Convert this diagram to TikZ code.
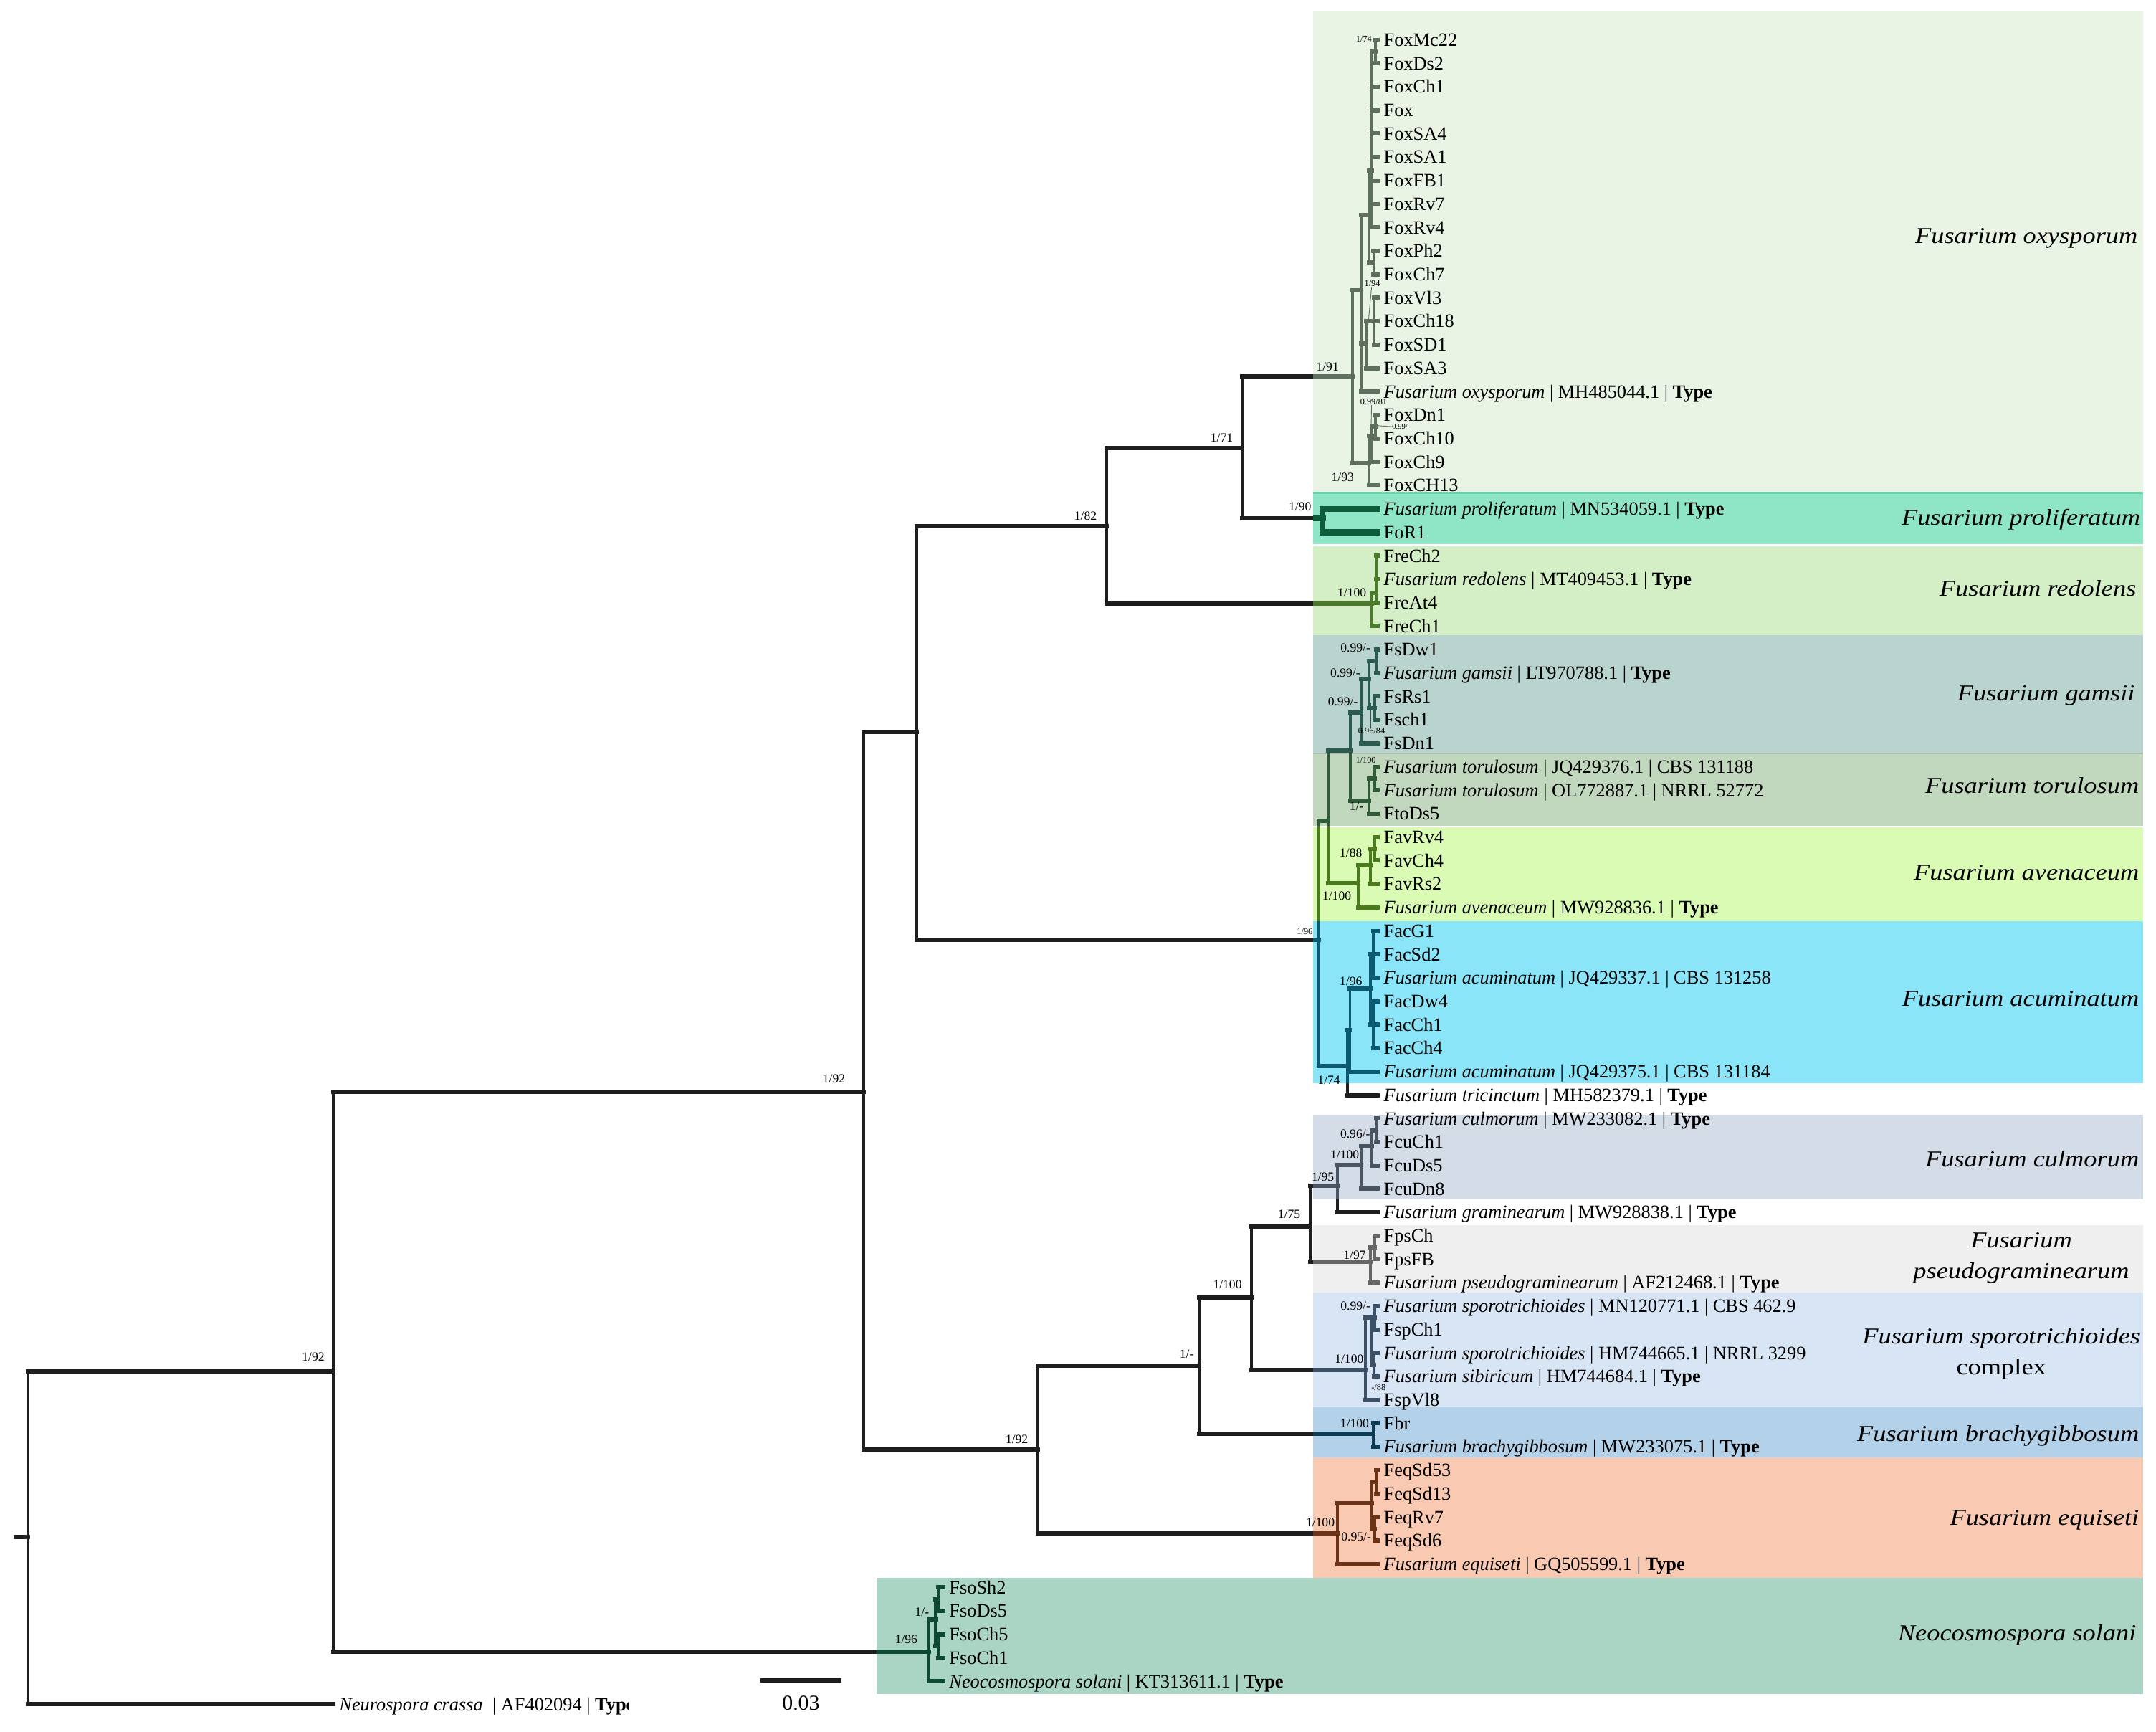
\documentclass[tikz,border=0pt]{standalone}
\usepackage{fontspec}
\setmainfont{Liberation Serif}
\newfontfamily\cladefont[FakeStretch=1.15]{Liberation Serif}
\definecolor{boxy}{HTML}{E9F4E5}
\definecolor{bprol}{HTML}{8EE6C7}
\definecolor{bprolline}{HTML}{62D7AC}
\definecolor{bred}{HTML}{D4EFC6}
\definecolor{bgam}{HTML}{B9D3CE}
\definecolor{btor}{HTML}{C1D8BF}
\definecolor{bave}{HTML}{D9FBB4}
\definecolor{bacu}{HTML}{8AE5F8}
\definecolor{bcul}{HTML}{D4DDE7}
\definecolor{bpse}{HTML}{EFEFEF}
\definecolor{bspo}{HTML}{D8E5F5}
\definecolor{bbra}{HTML}{B3D2E9}
\definecolor{bequ}{HTML}{F9CAB1}
\definecolor{bneo}{HTML}{AAD4C3}
\definecolor{coxy}{HTML}{5F6F5E}
\definecolor{cprol}{HTML}{0F5C3B}
\definecolor{cred}{HTML}{4D7B2C}
\definecolor{cgam}{HTML}{2B5A4E}
\definecolor{ctor}{HTML}{2F5B38}
\definecolor{cave}{HTML}{4A7B1D}
\definecolor{cacu}{HTML}{0C5A72}
\definecolor{ccul}{HTML}{4A5563}
\definecolor{cpse}{HTML}{666666}
\definecolor{cspo}{HTML}{3D5166}
\definecolor{cbra}{HTML}{0C3B56}
\definecolor{cequ}{HTML}{6B3317}
\definecolor{cneo}{HTML}{0E4A33}
\definecolor{cback}{HTML}{1E1E1E}
\tikzset{
 vbr/.style={line width=1.1pt, line cap=rect},
 hbr/.style={line width=1.7pt, line cap=rect},
 tip/.style={anchor=west, inner xsep=2.2pt, inner ysep=0pt, text height=5.2pt, text depth=0.2pt, font=\fontsize{7.5}{9}\selectfont},
 sup/.style={inner sep=0pt, font=\fontsize{5}{6}\selectfont},
 tiny/.style={inner sep=0pt, font=\fontsize{3.5}{4}\selectfont},
 clade/.style={anchor=east, inner sep=0pt, text height=6.3pt, text depth=0pt, font=\cladefont\itshape\fontsize{9}{12.3}\selectfont},
 clade2/.style={inner sep=0pt, align=center, font=\cladefont\itshape\fontsize{9}{12.3}\selectfont},
 leader/.style={line width=0.25pt},
}
\newcommand\tipn[4]{\node[tip] (#1) at (#2,{29+17.05*#3}) {#4};}
\newcommand\edg[2]{\draw[vbr] (#1) -- (#1 |- #2); \draw[hbr] (#1 |- #2) -- (#2);}
\newcommand\treeedges{%
 \edg{R}{N1}\edg{R}{tNeu.west}%
 \edg{N1}{N2}\edg{N1}{NS}%
 \edg{N2}{N3}\edg{N2}{N6}%
 \edg{N3}{N4}\edg{N3}{M}%
 \edg{N4}{N5}\edg{N4}{RD}%
 \edg{N5}{A}\edg{N5}{PR}%
 \edg{A}{B}\edg{A}{C}%
 \edg{B}{D}\edg{B}{E}\edg{B}{t15.west}%
 \edg{D}{D1}\edg{D}{D2}%
 \edg{D1}{P01}\edg{D1}{t2.west}\edg{D1}{t3.west}\edg{D1}{t4.west}\edg{D1}{t5.west}\edg{D1}{t6.west}\edg{D1}{t7.west}\edg{D1}{t8.west}%
 \edg{P01}{t0.west}\edg{P01}{t1.west}%
 \edg{D2}{t9.west}\edg{D2}{t10.west}%
 \edg{E}{E1}\edg{E}{t14.west}%
 \edg{E1}{t11.west}\edg{E1}{t12.west}\edg{E1}{t13.west}%
 \edg{C}{C1}\edg{C}{t19.west}%
 \edg{C1}{P1617}\edg{C1}{t18.west}%
 \edg{P1617}{t16.west}\edg{P1617}{t17.west}%
 \edg{PR}{t20.west}\edg{PR}{t21.west}%
 \edg{RD}{RD1}\edg{RD}{t25.west}%
 \edg{RD1}{t22.west}\edg{RD1}{t23.west}\edg{RD1}{t24.west}%
 \edg{M}{TGA}\edg{M}{AT}%
 \edg{TGA}{G0}\edg{TGA}{AV}%
 \edg{G0}{GA}\edg{G0}{T}%
 \edg{GA}{GB}\edg{GA}{t30.west}%
 \edg{GB}{P2627}\edg{GB}{P2829}%
 \edg{P2627}{t26.west}\edg{P2627}{t27.west}%
 \edg{P2829}{t28.west}\edg{P2829}{t29.west}%
 \edg{T}{T1}\edg{T}{t33.west}%
 \edg{T1}{t31.west}\edg{T1}{t32.west}%
 \edg{AV}{AV1}\edg{AV}{t37.west}%
 \edg{AV1}{AV2}\edg{AV1}{t36.west}%
 \edg{AV2}{t34.west}\edg{AV2}{t35.west}%
 \edg{AT}{AC}\edg{AT}{t45.west}%
 \edg{AC}{AC1}\edg{AC}{t44.west}%
 \edg{AC1}{ACa}\edg{AC1}{ACb}%
 \edg{ACa}{t38.west}\edg{ACa}{t39.west}\edg{ACa}{t40.west}%
 \edg{ACb}{t41.west}\edg{ACb}{t42.west}\edg{ACb}{t43.west}%
 \edg{N6}{N7}\edg{N6}{EQ}%
 \edg{N7}{N8}\edg{N7}{BR}%
 \edg{N8}{N75}\edg{N8}{SP}%
 \edg{N75}{CG}\edg{N75}{PS}%
 \edg{CG}{CU}\edg{CG}{t50.west}%
 \edg{CU}{CU1}\edg{CU}{t49.west}%
 \edg{CU1}{CU2}\edg{CU1}{t48.west}%
 \edg{CU2}{t46.west}\edg{CU2}{t47.west}%
 \edg{PS}{PS1}\edg{PS}{t53.west}%
 \edg{PS1}{t51.west}\edg{PS1}{t52.west}%
 \edg{SP}{SP1}\edg{SP}{t58.west}%
 \edg{SP1}{SPa}\edg{SP1}{SP2}%
 \edg{SPa}{t54.west}\edg{SPa}{t55.west}%
 \edg{SP2}{t56.west}\edg{SP2}{t57.west}%
 \edg{BR}{t59.west}\edg{BR}{t60.west}%
 \edg{EQ}{EQ1}\edg{EQ}{t65.west}%
 \edg{EQ1}{EQa}\edg{EQ1}{EQb}%
 \edg{EQa}{t61.west}\edg{EQa}{t62.west}%
 \edg{EQb}{t63.west}\edg{EQb}{t64.west}%
 \edg{NS}{NS1}\edg{NS}{t70.west}%
 \edg{NS1}{NSa}\edg{NS1}{NSb}%
 \edg{NSa}{t66.west}\edg{NSa}{t67.west}%
 \edg{NSb}{t68.west}\edg{NSb}{t69.west}%
}
\newcommand\boxcol[5]{\begin{scope}\clip (#1,#2) rectangle (1558.6,#3);\begin{scope}[color=#4,#5]\treeedges\end{scope}\end{scope}}
\begin{document}
\begin{tikzpicture}[x=0.0191837cm, y=-0.0191837cm]
\useasboundingbox (0,0) rectangle (1568,1259);
\fill[white] (0,0) rectangle (1568,1259);
% clade boxes
\fill[boxy] (955,8.3) rectangle (1558.6,358);
\fill[bprol] (955,358) rectangle (1558.6,395.7);
\draw[bprolline, line width=0.8pt] (955,358.5) -- (1558.6,358.5);
\fill[bred] (955,397) rectangle (1558.6,462);
\fill[bgam] (955,462) rectangle (1558.6,548);
\fill[btor] (955,548) rectangle (1558.6,600.4);
\draw[bgam!80!black!60!btor, line width=0.5pt] (955,548) -- (1558.6,548);
\fill[bave] (955,601.4) rectangle (1558.6,670);
\fill[bacu] (955,670) rectangle (1558.6,787.5);
\fill[bcul] (955,810.5) rectangle (1558.6,872);
\fill[bpse] (955,891) rectangle (1558.6,940);
\fill[bspo] (955,940) rectangle (1558.6,1023);
\fill[bbra] (955,1023) rectangle (1558.6,1060);
\fill[bequ] (955,1060) rectangle (1558.6,1147.5);
\fill[bneo] (637.3,1147.5) rectangle (1558.6,1231.5);
% tips
\tipn{t0}{1002}{0}{FoxMc22}
\tipn{t1}{1002}{1}{FoxDs2}
\tipn{t2}{1002}{2}{FoxCh1}
\tipn{t3}{1002}{3}{Fox}
\tipn{t4}{1002}{4}{FoxSA4}
\tipn{t5}{1002}{5}{FoxSA1}
\tipn{t6}{1002}{6}{FoxFB1}
\tipn{t7}{1002}{7}{FoxRv7}
\tipn{t8}{1002}{8}{FoxRv4}
\tipn{t9}{1002}{9}{FoxPh2}
\tipn{t10}{1002}{10}{FoxCh7}
\tipn{t11}{1002}{11}{FoxVl3}
\tipn{t12}{1002}{12}{FoxCh18}
\tipn{t13}{1002}{13}{FoxSD1}
\tipn{t14}{1002}{14}{FoxSA3}
\tipn{t15}{1002}{15}{\textit{Fusarium oxysporum} | MH485044.1 | \textbf{Type}}
\tipn{t16}{1002}{16}{FoxDn1}
\tipn{t17}{1002}{17}{FoxCh10}
\tipn{t18}{1002}{18}{FoxCh9}
\tipn{t19}{1002}{19}{FoxCH13}
\tipn{t20}{1002}{20}{\textit{Fusarium proliferatum} | MN534059.1 | \textbf{Type}}
\tipn{t21}{1002}{21}{FoR1}
\tipn{t22}{1002}{22}{FreCh2}
\tipn{t23}{1002}{23}{\textit{Fusarium redolens} | MT409453.1 | \textbf{Type}}
\tipn{t24}{1002}{24}{FreAt4}
\tipn{t25}{1002}{25}{FreCh1}
\tipn{t26}{1002}{26}{FsDw1}
\tipn{t27}{1002}{27}{\textit{Fusarium gamsii} | LT970788.1 | \textbf{Type}}
\tipn{t28}{1002}{28}{FsRs1}
\tipn{t29}{1002}{29}{Fsch1}
\tipn{t30}{1002}{30}{FsDn1}
\tipn{t31}{1002}{31}{\textit{Fusarium torulosum} | JQ429376.1 | CBS 131188}
\tipn{t32}{1002}{32}{\textit{Fusarium torulosum} | OL772887.1 | NRRL 52772}
\tipn{t33}{1002}{33}{FtoDs5}
\tipn{t34}{1002}{34}{FavRv4}
\tipn{t35}{1002}{35}{FavCh4}
\tipn{t36}{1002}{36}{FavRs2}
\tipn{t37}{1002}{37}{\textit{Fusarium avenaceum} | MW928836.1 | \textbf{Type}}
\tipn{t38}{1002}{38}{FacG1}
\tipn{t39}{1002}{39}{FacSd2}
\tipn{t40}{1002}{40}{\textit{Fusarium acuminatum} | JQ429337.1 | CBS 131258}
\tipn{t41}{1002}{41}{FacDw4}
\tipn{t42}{1002}{42}{FacCh1}
\tipn{t43}{1002}{43}{FacCh4}
\tipn{t44}{1002}{44}{\textit{Fusarium acuminatum} | JQ429375.1 | CBS 131184}
\tipn{t45}{1002}{45}{\textit{Fusarium tricinctum} | MH582379.1 | \textbf{Type}}
\tipn{t46}{1002}{46}{\textit{Fusarium culmorum} | MW233082.1 | \textbf{Type}}
\tipn{t47}{1002}{47}{FcuCh1}
\tipn{t48}{1002}{48}{FcuDs5}
\tipn{t49}{1002}{49}{FcuDn8}
\tipn{t50}{1002}{50}{\textit{Fusarium graminearum} | MW928838.1 | \textbf{Type}}
\tipn{t51}{1002}{51}{FpsCh}
\tipn{t52}{1002}{52}{FpsFB}
\tipn{t53}{1002}{53}{\textit{Fusarium pseudograminearum} | AF212468.1 | \textbf{Type}}
\tipn{t54}{1002}{54}{\textit{Fusarium sporotrichioides} | MN120771.1 | CBS 462.9}
\tipn{t55}{1002}{55}{FspCh1}
\tipn{t56}{1002}{56}{\textit{Fusarium sporotrichioides} | HM744665.1 | NRRL 3299}
\tipn{t57}{1002}{57}{\textit{Fusarium sibiricum} | HM744684.1 | \textbf{Type}}
\tipn{t58}{1002}{58}{FspVl8}
\tipn{t59}{1002}{59}{Fbr}
\tipn{t60}{1002}{60}{\textit{Fusarium brachygibbosum} | MW233075.1 | \textbf{Type}}
\tipn{t61}{1002}{61}{FeqSd53}
\tipn{t62}{1002}{62}{FeqSd13}
\tipn{t63}{1002}{63}{FeqRv7}
\tipn{t64}{1002}{64}{FeqSd6}
\tipn{t65}{1002}{65}{\textit{Fusarium equiseti} | GQ505599.1 | \textbf{Type}}
\tipn{t66}{686}{66}{FsoSh2}
\tipn{t67}{686}{67}{FsoDs5}
\tipn{t68}{686}{68}{FsoCh5}
\tipn{t69}{686}{69}{FsoCh1}
\tipn{t70}{686}{70}{\textit{Neocosmospora solani} | KT313611.1 | \textbf{Type}}
\begin{scope}
\clip (240,1225) rectangle (457,1255);
\node[tip] (tNeu) at (242.4,1239.2) {\textit{Neurospora crassa}\enspace| AF402094 | \textbf{Type}};
\end{scope}
% internal nodes
\coordinate (R0) at (11.4,1117.4);
\coordinate (R) at (20.3,1117.4);
\coordinate (N1) at (242.3,997.1);
\coordinate (N2) at (628.3,794);
\coordinate (N3) at (666.6,532.4);
\coordinate (N4) at (805,382.7);
\coordinate (N5) at (903.4,326);
\coordinate (A) at (983.8,273.5);
\coordinate (B) at (989.8,211);
\coordinate (C) at (995.8,336.9);
\coordinate (D) at (995.8,156.4);
\coordinate (D1) at (997.8,124);
\coordinate (P01) at (1000.5,37.5);
\coordinate (D2) at (999,191);
\coordinate (E) at (993.7,249.6);
\coordinate (E1) at (999.5,233.6);
\coordinate (C1) at (997.8,317);
\coordinate (P1617) at (1000.3,310.3);
\coordinate (PR) at (962,376.8);
\coordinate (RD) at (997.8,438.8);
\coordinate (RD1) at (1000.8,431);
\coordinate (M) at (959,683.5);
\coordinate (TGA) at (965.9,596.8);
\coordinate (G0) at (981.9,545.7);
\coordinate (GA) at (989.8,517.9);
\coordinate (GB) at (995.8,493.6);
\coordinate (P2627) at (1000.8,480.8);
\coordinate (P2829) at (999.8,515);
\coordinate (T) at (995.8,582.2);
\coordinate (T1) at (999.8,566.1);
\coordinate (AV) at (987.8,642.2);
\coordinate (AV1) at (996.8,629.1);
\coordinate (AV2) at (999.8,617.2);
\coordinate (AT) at (979.8,775.1);
\coordinate (AC) at (981.8,749);
\coordinate (AC1) at (996.8,718.6);
\coordinate (ACa) at (998.7,694);
\coordinate (ACb) at (998.7,745.1);
\coordinate (N6) at (754.6,1053.8);
\coordinate (N7) at (872.3,993);
\coordinate (N8) at (910.2,943.7);
\coordinate (N75) at (953,892);
\coordinate (CG) at (972.8,862);
\coordinate (CU) at (989.8,847.2);
\coordinate (CU1) at (997.8,833.3);
\coordinate (CU2) at (1000.7,821.8);
\coordinate (PS) at (996.8,917.6);
\coordinate (PS1) at (999.8,907.1);
\coordinate (SP) at (992.8,995.9);
\coordinate (SP1) at (997.8,958.2);
\coordinate (SPa) at (1000,958.2);
\coordinate (SP2) at (999.5,992.3);
\coordinate (BR) at (998.8,1042.5);
\coordinate (EQ) at (972.9,1115.2);
\coordinate (EQ1) at (997.8,1093.2);
\coordinate (EQa) at (1000.7,1077.6);
\coordinate (EQb) at (1000,1111.7);
\coordinate (NS) at (675.7,1201);
\coordinate (NS1) at (680.3,1177.4);
\coordinate (NSa) at (682.5,1162.8);
\coordinate (NSb) at (682.5,1196.9);
% black tree
\begin{scope}[color=cback]
\draw[hbr] (R0) -- (R);
\treeedges
\end{scope}
% coloured clades
\boxcol{955}{8.3}{358}{coxy}{}
\boxcol{955}{358}{396.3}{cprol}{hbr/.append style={line width=2.3pt},vbr/.append style={line width=1.9pt}}
\boxcol{955}{396.3}{462}{cred}{}
\boxcol{955}{462}{548}{cgam}{}
\boxcol{955}{548}{601}{ctor}{}
\boxcol{955}{601}{670}{cave}{}
\boxcol{955}{670}{787.5}{cacu}{}
\boxcol{955}{810.5}{872}{ccul}{}
\boxcol{955}{891}{940}{cpse}{}
\boxcol{955}{940}{1023}{cspo}{}
\boxcol{955}{1023}{1060}{cbra}{}
\boxcol{955}{1060}{1147.5}{cequ}{}
\boxcol{637.3}{1147.5}{1231.5}{cneo}{}
% leaders
\draw[leader, coxy] (997.5,209) -- (E);
\draw[leader, coxy] (997.5,294.5) -- (996.8,328);
\draw[leader, coxy] (1001.5,309.5) -- (1013.5,310.3);
\draw[leader, cgam] (996.8,511) -- (996.8,529.5);
% support values
\node[sup,anchor=south east] (l1) at (236.3,990) {1/92};
\node[sup,anchor=south east] (l2) at (615,788) {1/92};
\node[sup,anchor=south east] (l3) at (798,378.5) {1/82};
\node[sup,anchor=south east] (l4) at (897,322) {1/71};
\node[sup,anchor=south east] (l5) at (974,270) {1/91};
\node[sup,anchor=south east] (l6) at (954,372) {1/90};
\node[sup,anchor=south east] (l7) at (748,1050) {1/92};
\node[sup,anchor=south east] (l8) at (868.5,988) {1/-};
\node[sup,anchor=south east] (l9) at (903.5,937.5) {1/100};
\node[sup,anchor=south east] (l10) at (946,886.5) {1/75};
\node[tiny,anchor=east] (l11) at (955,677.5) {1/96};
\node[sup,anchor=east] (l12) at (994,431) {1/100};
\node[sup,anchor=east] (l13) at (985,347) {1/93};
\node[tiny,anchor=east] (l14) at (998,28.5) {1/74};
\node[tiny] (l15) at (998,206) {1/94};
\node[tiny] (l16) at (999,292) {0.99/81};
\node[tiny,font=\fontsize{3}{3.5}\selectfont] (l17) at (1019,310.4) {0.99/-};
\node[sup,anchor=east] (l18) at (997,471) {0.99/-};
\node[sup,anchor=east] (l19) at (989.6,489.2) {0.99/-};
\node[sup,anchor=east] (l20) at (987.8,510) {0.99/-};
\node[tiny] (l21) at (997.5,531.5) {0.96/84};
\node[tiny,anchor=east] (l22) at (1001,553) {1/100};
\node[sup,anchor=east] (l23) at (992,586.5) {1/-};
\node[sup,anchor=east] (l24) at (991,620.4) {1/88};
\node[sup,anchor=east] (l25) at (983,651.7) {1/100};
\node[sup,anchor=east] (l26) at (991,713.4) {1/96};
\node[sup,anchor=east] (l27) at (975,785.5) {1/74};
\node[sup,anchor=east] (l28) at (996.8,824.6) {0.96/-};
\node[sup,anchor=east] (l29) at (988.8,839.4) {1/100};
\node[sup,anchor=east] (l30) at (970.5,856) {1/95};
\node[sup,anchor=east] (l31) at (993.7,912.4) {1/97};
\node[sup,anchor=east] (l32) at (997,949.8) {0.99/-};
\node[sup,anchor=east] (l33) at (992,988) {1/100};
\node[tiny,anchor=west] (l34) at (997,1009) {-/88};
\node[sup,anchor=east] (l35) at (996,1035) {1/100};
\node[sup,anchor=east] (l36) at (971,1107) {1/100};
\node[sup,anchor=east] (l37) at (997.5,1117.6) {0.95/-};
\node[sup,anchor=east] (l38) at (667.6,1192) {1/96};
\node[sup,anchor=east] (l39) at (676,1172) {1/-};
% clade names
\node[clade] (cl1) at (1555,171.3) {Fusarium oxysporum};
\node[clade] (cl2) at (1557,375.9) {Fusarium proliferatum};
\node[clade] (cl3) at (1554,427.5) {Fusarium redolens};
\node[clade] (cl4) at (1553,504) {Fusarium gamsii};
\node[clade] (cl5) at (1556,570.8) {Fusarium torulosum};
\node[clade] (cl6) at (1556,634.3) {Fusarium avenaceum};
\node[clade] (cl7) at (1556,726) {Fusarium acuminatum};
\node[clade] (cl8) at (1556,842.7) {Fusarium culmorum};
\node[clade2] (cl9) at (1470,914.7) {Fusarium\\pseudograminearum};
\node[clade2] (cl10) at (1455.5,984.3) {Fusarium sporotrichioides\\{\upshape complex}};
\node[clade] (cl11) at (1556,1042.2) {Fusarium brachygibbosum};
\node[clade] (cl12) at (1556,1103.4) {Fusarium equiseti};
\node[clade] (cl13) at (1554,1187) {Neocosmospora solani};
% scale bar
\coordinate (sb1) at (553,1222);
\coordinate (sb2) at (612,1222);
\draw[line width=1.6pt, cback] (sb1) -- (sb2);
\node[inner sep=0pt, anchor=north, font=\fontsize{8.5}{10}\selectfont] (sbl) at (582.5,1233) {0.03};
\end{tikzpicture}
\end{document}
